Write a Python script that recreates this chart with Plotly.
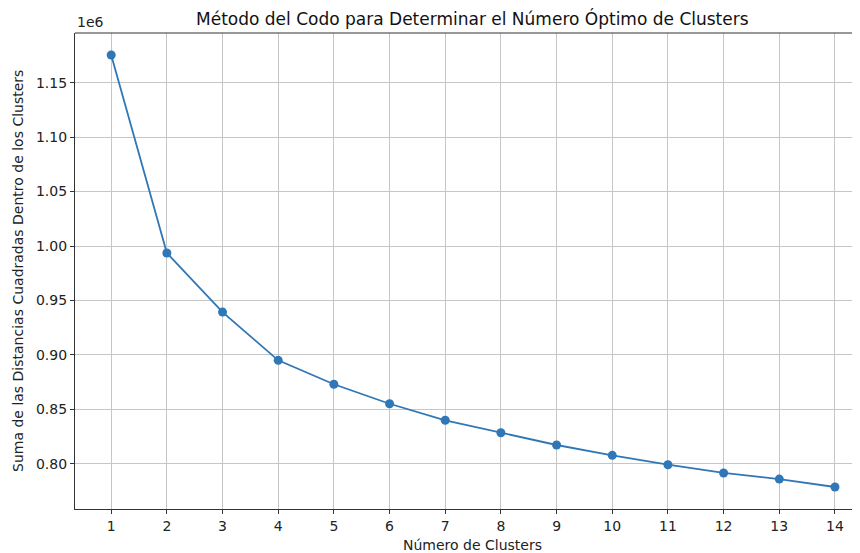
import plotly.graph_objects as go

# cluster counts and within-cluster sum of squares
clusters = [1, 2, 3, 4, 5, 6, 7, 8, 9, 10, 11, 12, 13, 14]
wcss = [1175500, 993600, 939300, 895000, 873000, 855100, 839900, 828500,
        817200, 807700, 799100, 791500, 785900, 778600]
y_ticks = [0.80, 0.85, 0.90, 0.95, 1.00, 1.05, 1.10, 1.15]
scale = 1e6

fig = go.Figure()
fig.add_trace(go.Scatter(
    x=clusters, y=[v / scale for v in wcss], mode='lines+markers',
    line=dict(color='#2f77b6', width=1.8),
    marker=dict(color='#2f77b6', size=9),
    showlegend=False,
))

font = "DejaVu Sans, sans-serif"
# the page body adds an 8px offset, so the figure is 8px smaller
fig.update_layout(
    width=852, height=545,
    plot_bgcolor='white', paper_bgcolor='white',
    margin=dict(l=67, r=0, t=25, b=44, autoexpand=False),
    font=dict(family=font, size=14, color='#222222'),
    xaxis=dict(range=[0.35, 14.45], tickvals=clusters, showgrid=True,
               gridcolor='#c6c6c6', gridwidth=1, zeroline=False,
               showline=True, linecolor='#333333', linewidth=1.2,
               ticks='outside', ticklen=4, tickcolor='#333333',
               automargin=False),
    yaxis=dict(range=[0.7584, 1.1957], tickvals=y_ticks,
               ticktext=[f"{t:.2f}" for t in y_ticks], showgrid=True,
               gridcolor='#c6c6c6', gridwidth=1, zeroline=False,
               showline=True, linecolor='#333333', linewidth=1.2,
               ticks='outside', ticklen=4, tickcolor='#333333',
               automargin=False),
)
# top spine (right spine lies outside the cropped picture)
fig.add_shape(type='line', xref='paper', yref='paper', x0=0, x1=1, y0=1, y1=1,
              line=dict(color='#333333', width=1.2))
fig.add_annotation(text="1e6", xref='paper', yref='paper', x=0, y=1,
                   xanchor='left', yanchor='bottom', showarrow=False,
                   font=dict(size=14), yshift=1)
# title and axis titles placed like the original
fig.add_annotation(text="Método del Codo para Determinar el Número Óptimo de Clusters",
                   xref='paper', yref='paper', x=0.506, y=1, yshift=15,
                   xanchor='center', yanchor='middle', showarrow=False,
                   font=dict(size=17, color='#111111'))
fig.add_annotation(text="Número de Clusters", xref='paper', yref='paper',
                   x=0.506, y=0, yshift=-36, xanchor='center', yanchor='middle',
                   showarrow=False, font=dict(size=14))
fig.add_annotation(text="Suma de las Distancias Cuadradas Dentro de los Clusters",
                   xref='paper', yref='paper', x=0, xshift=-57, y=0.5,
                   xanchor='center', yanchor='middle', textangle=-90,
                   showarrow=False, font=dict(size=14))

fig.write_html("out.html")
